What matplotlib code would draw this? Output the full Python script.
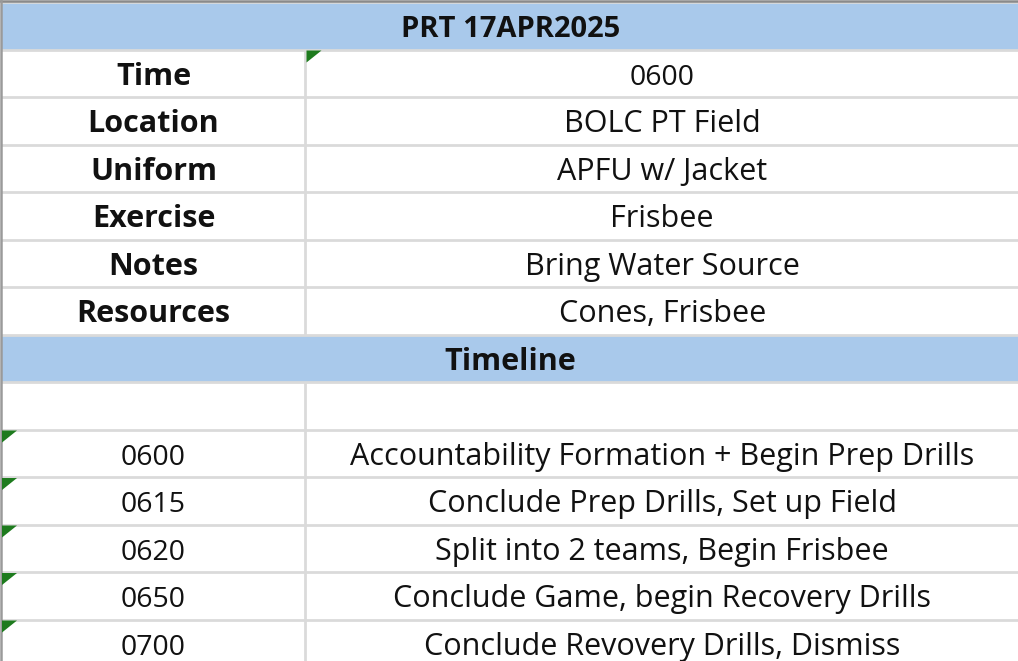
import matplotlib
matplotlib.use("Agg")
import matplotlib.pyplot as plt
from matplotlib.patches import Rectangle, Polygon

title = "PRT 17APR2025"
labels = ["Time", "Location", "Uniform", "Exercise", "Notes", "Resources"]
values = ["0600", "BOLC PT Field", "APFU w/ Jacket", "Frisbee", "Bring Water Source", "Cones, Frisbee"]
section = "Timeline"
times = ["0600", "0615", "0620", "0650", "0700"]
events = [
    "Accountability Formation + Begin Prep Drills",
    "Conclude Prep Drills, Set up Field",
    "Split into 2 teams, Begin Frisbee",
    "Conclude Game, begin Recovery Drills",
    "Conclude Revovery Drills, Dismiss",
]

W, H = 1018, 661
fig = plt.figure(figsize=(W / 100, H / 100), dpi=100)
ax = fig.add_axes([0, 0, 1, 1])
ax.set_xlim(0, W)
ax.set_ylim(H, 0)
ax.axis("off")

blue = "#A9C9EB"
grid = "#DADADA"
font = "Open Sans"
fs = 22
fs_num = 20.5
fs_title = 21

top = 2.0
rh = 47.5
x0, xm, x1 = 1.5, 305.5, 1019.0

def row_top(i):
    return top + i * rh

def size_for(s):
    return fs_num if s.isdigit() else fs

n_rows = 14
for i in range(n_rows):
    y = row_top(i)
    if i in (0, 7):
        ax.add_patch(Rectangle((x0, y), x1 - x0, rh, facecolor=blue, edgecolor="none"))

for i in range(n_rows + 1):
    y = row_top(i)
    ax.plot([x0, x1], [y, y], color=grid, lw=2.0, solid_capstyle="butt", zorder=1)
for i in range(n_rows):
    if i in (0, 7):
        continue
    y = row_top(i)
    ax.plot([xm, xm], [y, y + rh], color=grid, lw=2.0, solid_capstyle="butt", zorder=1)

ax.plot([0, W], [0.8, 0.8], color="#8A8A8A", lw=1.8, zorder=3)
ax.plot([0.8, 0.8], [0, H], color="#9A9A9A", lw=1.8, zorder=3)

base = 0.745
ax.text((x0 + x1) / 2, row_top(0) + base * rh, title, ha="center", va="baseline",
        fontsize=fs_title, fontweight="bold", family=font, color="#111111")
for k, (lab, val) in enumerate(zip(labels, values)):
    i = 1 + k
    ax.text((x0 + xm) / 2, row_top(i) + base * rh, lab, ha="center", va="baseline",
            fontsize=fs, fontweight="bold", family=font, color="#111111")
    ax.text((xm + x1) / 2, row_top(i) + base * rh, val, ha="center", va="baseline",
            fontsize=size_for(val), family=font, color="#111111")
ax.text((x0 + x1) / 2, row_top(7) + base * rh, section, ha="center", va="baseline",
        fontsize=fs, fontweight="bold", family=font, color="#111111")
for k, (t, e) in enumerate(zip(times, events)):
    i = 9 + k
    ax.text((x0 + xm) / 2, row_top(i) + base * rh, t, ha="center", va="baseline",
            fontsize=size_for(t), family=font, color="#111111")
    ax.text((xm + x1) / 2, row_top(i) + base * rh, e, ha="center", va="baseline",
            fontsize=size_for(e), family=font, color="#111111")

green = "#1E7B1E"
def tri(x, y):
    ax.add_patch(Polygon([(x, y), (x + 15, y), (x, y + 12)], closed=True,
                         facecolor=green, edgecolor="none", zorder=4))

tri(xm + 1, row_top(1) + 1)
for k in range(len(times)):
    tri(2, row_top(9 + k) + 1)

fig.savefig("out.png", dpi=100)
